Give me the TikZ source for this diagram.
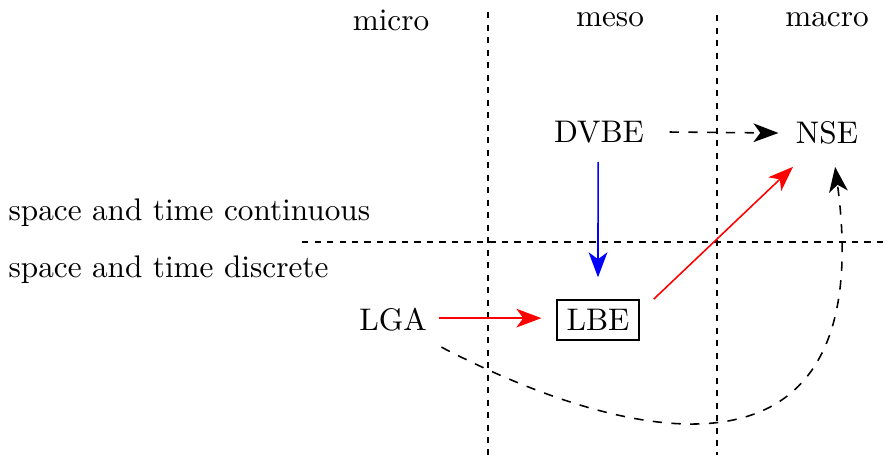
\documentclass[tikz,border=0pt]{standalone}
\usetikzlibrary{arrows.meta}
\begin{document}
\begin{tikzpicture}[x=0.32pt,y=-0.32pt,
  lbl/.style={inner sep=0pt},
  grid/.style={line width=0.5pt, dash pattern=on 2pt off 2pt},
  arr/.style={-{Stealth[length=8pt,width=6pt,inset=2.2pt]}, line width=0.5pt}]
\useasboundingbox (0,0) rectangle (886,457);
% grid lines
\coordinate (v1t) at (488,12); \coordinate (v1b) at (488,455);
\coordinate (v2t) at (717,15); \coordinate (v2b) at (717,455);
\coordinate (hl) at (302,242); \coordinate (hr) at (886,242);
\draw[grid] (v1t) -- (v1b);
\draw[grid] (v2t) -- (v2b);
\draw[grid] (hl) -- (hr);
% labels
\node[lbl] (micro) at (391,20) {micro};
\node[lbl] (meso) at (610,20) {meso};
\node[lbl] (macro) at (827,20) {macro};
\node[lbl,anchor=west] (cont) at (8,213) {space and time continuous};
\node[lbl,anchor=west] (disc) at (8,270) {space and time discrete};
% nodes
\node[lbl] (DVBE) at (599,132) {DVBE};
\node[lbl] (NSE) at (827,133) {NSE};
\node[lbl] (LGA) at (393,320) {LGA};
\node[draw,line width=0.5pt,inner sep=3pt] (LBE) at (598,320) {LBE};
% connectors
\draw[arr,dashed] ([xshift=8pt]DVBE.east) -- ([xshift=-5.4pt]NSE.west);
\draw[arr,blue] ([xshift=-0.3pt,yshift=-5.8pt]DVBE.south) -- ([yshift=7pt]LBE.north);
\draw[arr,red] ([xshift=3.8pt,yshift=0.6pt]LGA.east) -- ([xshift=-4.8pt,yshift=0.6pt]LBE.west);
\draw[arr,red] ([xshift=4.5pt]LBE.north east) -- ([xshift=-10.9pt,yshift=-7pt]NSE.south);
\draw[arr,dashed] ([xshift=4.5pt,yshift=-4.8pt]LGA.south east) .. controls (650,455) and (878,488) .. ([xshift=2.6pt,yshift=-7pt]NSE.south);
\end{tikzpicture}
\end{document}
